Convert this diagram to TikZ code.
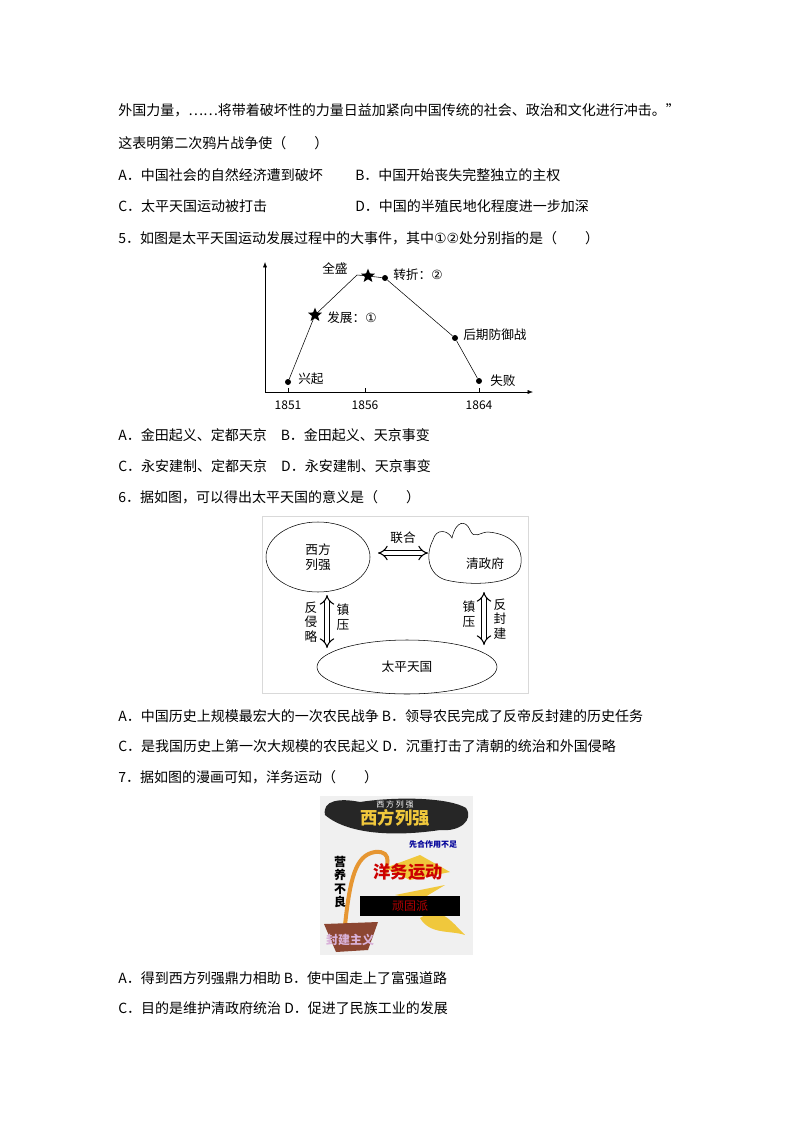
\documentclass[tikz,border=0pt]{standalone}
\usepackage{fontspec}
\setmainfont{Noto Sans CJK SC}
\newfontfamily\cjk{Noto Sans CJK SC}
\newfontfamily\symfont{DejaVu Sans}
\usetikzlibrary{arrows.meta,positioning,shapes.geometric,decorations.pathmorphing}
\definecolor{potbrown}{RGB}{140,70,50}
\definecolor{stemorange}{RGB}{230,150,50}
\definecolor{leafyellow}{RGB}{240,200,60}
\tikzset{
  body/.style={anchor=west, inner sep=0pt, font=\fontsize{10.5}{12}\selectfont},
  lbl/.style={anchor=west, inner sep=0pt, font=\fontsize{9.5}{11}\selectfont},
  dot/.style={circle, fill=black, inner sep=0pt, minimum size=4.5pt},
  starmark/.style={star, star points=5, star point ratio=2.3, fill=black, inner sep=0pt, minimum size=11pt},
  vtext/.style={align=center, inner sep=0pt, font=\fontsize{9.5}{11}\selectfont},
  dbl/.style={double, double distance=3pt, {Implies}-{Implies}, thick}
}
\begin{document}
\begin{tikzpicture}[x=0.75pt, y=-0.75pt]
\useasboundingbox (0,0) rectangle (794,1123);
% Question text
\node[body] (t1) at (118,110) {外国力量，……将带着破坏性的力量日益加紧向中国传统的社会、政治和文化进行冲击。”};
\node[body] (t2) at (118,143) {这表明第二次鸦片战争使（　　）};
\node[body] (q4a) at (118,175) {A．中国社会的自然经济遭到破坏};
\node[body] (q4b) at (355,175) {B．中国开始丧失完整独立的主权};
\node[body] (q4c) at (118,206) {C．太平天国运动被打击};
\node[body] (q4d) at (355,206) {D．中国的半殖民地化程度进一步加深};
\node[body] (q5) at (118,238) {5．如图是太平天国运动发展过程中的大事件，其中{\symfont ①②}处分别指的是（　　）};
% Chart
\coordinate (o) at (265,392);
\draw[-{Latex[length=4pt]}] (o) -- (265,262);
\draw[-{Latex[length=4pt]}] (o) -- (533,392);
\foreach \x/\yr in {288/1851,365/1856,479/1864}{
  \draw (\x,392) -- (\x,388);
  \node[font=\fontsize{9}{10}\selectfont\rmfamily] at (\x,405) {\yr};
}
\node[dot] (rise) at (288,382) {};
\node[starmark] (dev) at (315,315) {};
\coordinate (peak) at (357,275);
\node[starmark] (full) at (368,276) {};
\node[dot] (turn) at (385,278) {};
\node[dot] (late) at (455,338) {};
\node[dot] (fail) at (479,381) {};
\draw (rise) -- (dev.center) -- (peak) -- (full.center) -- (turn) -- (late) -- (fail);
\node[lbl] at (298,379) {兴起};
\node[lbl] at (327,318) {发展：{\symfont ①}};
\node[lbl] at (322,268) {全盛};
\node[lbl] at (393,275) {转折：{\symfont ②}};
\node[lbl] at (463,335) {后期防御战};
\node[lbl] at (490,381) {失败};
\node[body] (q5a) at (118,435) {A．金田起义、定都天京　B．金田起义、天京事变};
\node[body] (q5c) at (118,466) {C．永安建制、定都天京　D．永安建制、天京事变};
\node[body] (q6) at (118,497) {6．据如图，可以得出太平天国的意义是（　　）};
% Relation diagram
\draw[black!15] (262,516) rectangle (528,693);
\node[ellipse, draw, minimum width=104pt*0.75, minimum height=70pt*0.75, vtext] (west) at (318,557) {西方\\列强};
\draw (433,540) .. controls (436,528) and (448,530) .. (452,538)
  .. controls (456,520) and (466,520) .. (470,530)
  .. controls (474,540) and (480,532) .. (488,532)
  .. controls (515,534) and (525,552) .. (520,568)
  .. controls (514,585) and (470,586) .. (446,580)
  .. controls (428,575) and (425,555) .. (433,540);
\node[vtext] (qing) at (485,564) {清政府};
\node[ellipse, draw, minimum width=180pt*0.75, minimum height=54pt*0.75, vtext] (tp) at (407,667) {太平天国};
\draw[dbl] (378,553) -- (428,553);
\node[vtext] at (403,538) {联合};
\draw[dbl] (327,595) -- (327,648);
\node[vtext] at (311,622) {反\\侵\\略};
\node[vtext] at (343,617) {镇\\压};
\draw[dbl] (484,592) -- (484,645);
\node[vtext] at (469,614) {镇\\压};
\node[vtext] at (500,619) {反\\封\\建};
\node[body] (q6a) at (118,716) {A．中国历史上规模最宏大的一次农民战争 B．领导农民完成了反帝反封建的历史任务};
\node[body] (q6c) at (118,746) {C．是我国历史上第一次大规模的农民起义 D．沉重打击了清朝的统治和外国侵略};
\node[body] (q7) at (118,777) {7．据如图的漫画可知，洋务运动（　　）};
% Cartoon
\fill[black!6] (320,796) rectangle (473,955);
\fill[black!85] (325,815) .. controls (322,800) and (340,798) .. (360,802)
  .. controls (400,796) and (450,798) .. (466,808)
  .. controls (474,820) and (460,832) .. (440,830)
  .. controls (400,836) and (350,836) .. (325,815);
\node[font=\fontsize{6}{6}\selectfont, text=white] at (395,804) {西 方 列 强};
\node[font=\fontsize{13}{13}\selectfont\bfseries, text=leafyellow] at (395,818) {西方列强};
\node[font=\fontsize{6}{6}\selectfont\bfseries, text=blue!60!black] at (433,844) {先合作用不足};
\draw[stemorange, line width=3pt] (345,925) .. controls (350,880) and (355,855) .. (375,852)
  .. controls (395,850) and (385,870) .. (385,875);
\fill[leafyellow] (385,868) -- (420,855) -- (450,872) -- (410,880) -- cycle;
\fill[leafyellow] (395,895) -- (445,885) -- (420,900) -- cycle;
\fill[leafyellow] (420,918) .. controls (440,905) and (450,920) .. (465,935)
  .. controls (450,930) and (430,935) .. (420,918);
\node[font=\fontsize{13}{13}\selectfont\bfseries, text=red!80!black] at (408,872) {洋务运动};
\node[fill=black, text=red!70!black, font=\fontsize{9}{9}\selectfont, minimum width=75pt, minimum height=11pt] at (410,906) {顽固派};
\node[vtext, font=\fontsize{9}{10}\selectfont\bfseries] at (340,882) {营\\养\\不\\良};
\fill[potbrown] (324,924) -- (378,922) -- (368,950) -- (336,952) -- cycle;
\node[font=\fontsize{9}{9}\selectfont\bfseries, text=violet!30] at (350,940) {封建主义};
\node[body] (q7a) at (118,978) {A．得到西方列强鼎力相助 B．使中国走上了富强道路};
\node[body] (q7c) at (118,1008) {C．目的是维护清政府统治 D．促进了民族工业的发展};
\end{tikzpicture}
\end{document}
